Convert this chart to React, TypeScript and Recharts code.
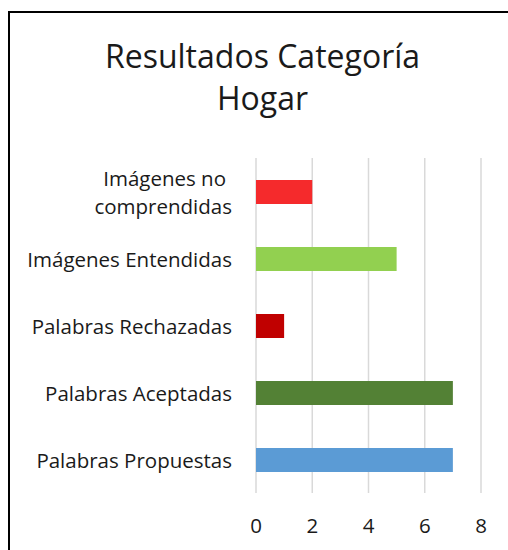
import React from 'react';
import { BarChart, Bar, XAxis, YAxis, CartesianGrid, Cell } from 'recharts';

const categories = [
  'Imágenes no comprendidas',
  'Imágenes Entendidas',
  'Palabras Rechazadas',
  'Palabras Aceptadas',
  'Palabras Propuestas',
];
const values = [2, 5, 1, 7, 7];
const barColors = ['#F52A2C', '#92D050', '#C00000', '#538135', '#5B9BD5'];
const xTicks = [0, 2, 4, 6, 8];
const titleLines = ['Resultados Categoría', 'Hogar'];

const data = categories.map((c, i) => ({ name: c, value: values[i] }));

const FONT = '"Open Sans", sans-serif';
const TEXT_COLOR = '#1a1a1a';
const LABEL_SIZE = 20.5;

const YTick = (props: any) => {
  const { x, y, payload } = props;
  const label: string = payload.value;
  if (label === 'Imágenes no comprendidas') {
    return (
      <g>
        <text x={x - 6} y={y - 14} textAnchor="end" dominantBaseline="central" fontFamily={FONT} fontSize={LABEL_SIZE} fill={TEXT_COLOR}>
          Imágenes no
        </text>
        <text x={x} y={y + 14} textAnchor="end" dominantBaseline="central" fontFamily={FONT} fontSize={LABEL_SIZE} fill={TEXT_COLOR}>
          comprendidas
        </text>
      </g>
    );
  }
  return (
    <text x={x} y={y} textAnchor="end" dominantBaseline="central" fontFamily={FONT} fontSize={LABEL_SIZE} fill={TEXT_COLOR}>
      {label}
    </text>
  );
};

const XTick = (props: any) => {
  const { x, y, payload } = props;
  return (
    <text x={x} y={y} textAnchor="middle" fontFamily={FONT} fontSize={LABEL_SIZE} fill={TEXT_COLOR}>
      {payload.value}
    </text>
  );
};

export default function App() {
  return (
    <div style={{ position: 'absolute', left: 0, top: 0, width: 508, height: 550, overflow: 'hidden', background: '#fff' }}>
      <div
        style={{
          position: 'absolute',
          left: 8,
          top: 11,
          width: 500,
          height: 539,
          borderLeft: '2px solid #000',
          borderTop: '2px solid #000',
          boxSizing: 'border-box',
        }}
      />
      <svg width={508} height={130} style={{ position: 'absolute', left: 0, top: 0 }}>
        {titleLines.map((t, i) => (
          <text key={i} x={262.5} y={68 + i * 42} textAnchor="middle" fontFamily={FONT} fontSize={32} fill={TEXT_COLOR}>
            {t}
          </text>
        ))}
      </svg>
      <div style={{ position: 'absolute', left: 0, top: 0 }}>
        <BarChart
          width={508}
          height={550}
          data={data}
          layout="vertical"
          margin={{ top: 158, right: 27, bottom: 7, left: 10 }}
          barCategoryGap={0}
        >
          <CartesianGrid horizontal={false} stroke="#D9D9D9" strokeWidth={1.5} />
          <XAxis
            type="number"
            domain={[0, 8]}
            ticks={xTicks}
            axisLine={false}
            tickLine={false}
            tickSize={0}
            tickMargin={40}
            height={50}
            tick={<XTick />}
            interval={0}
          />
          <YAxis
            type="category"
            dataKey="name"
            width={246}
            axisLine={false}
            tickLine={false}
            tickSize={0}
            tickMargin={24}
            tick={<YTick />}
            interval={0}
          />
          <Bar dataKey="value" barSize={24} isAnimationActive={false}>
            {data.map((d, i) => (
              <Cell key={d.name} fill={barColors[i]} />
            ))}
          </Bar>
        </BarChart>
      </div>
    </div>
  );
}
